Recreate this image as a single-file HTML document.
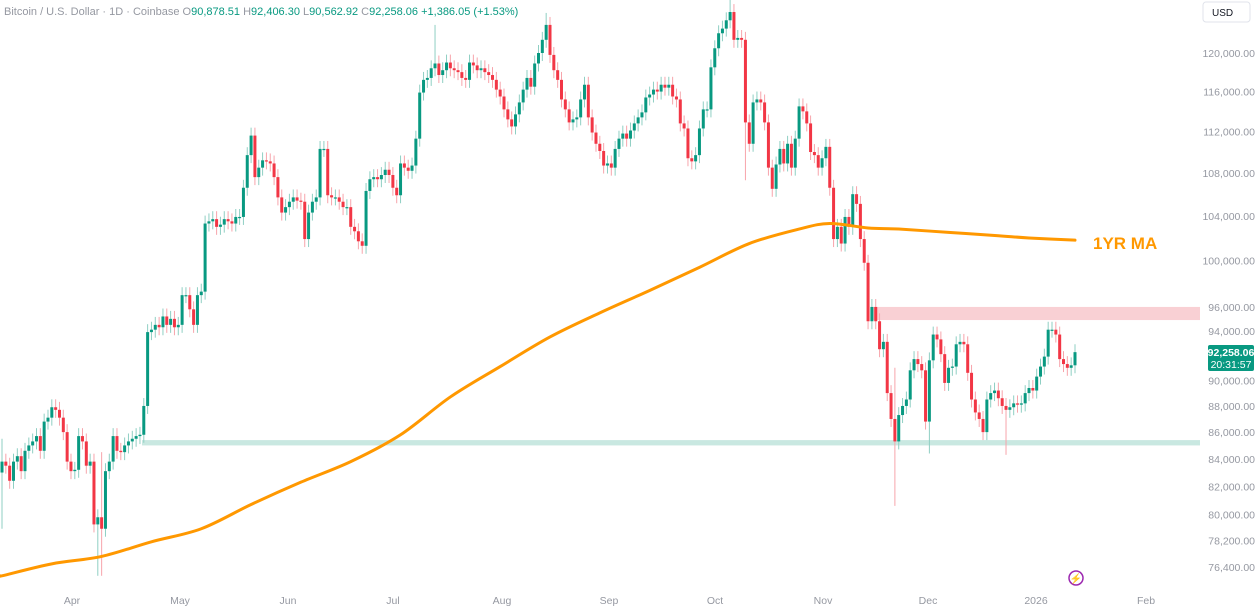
<!DOCTYPE html>
<html><head><meta charset="utf-8"><style>
body{margin:0;background:#fff;font-family:"Liberation Sans",sans-serif;}
svg{display:block}
text{font-family:"Liberation Sans",sans-serif}
</style></head><body>
<svg id="c" width="1259" height="609">
<text x="4" y="15" font-size="11" fill="#9598a1">Bitcoin / U.S. Dollar · 1D · Coinbase  <tspan fill="#9598a1">O</tspan><tspan fill="#089981">90,878.51</tspan>  <tspan>H</tspan><tspan fill="#089981">92,406.30</tspan>  <tspan>L</tspan><tspan fill="#089981">90,562.92</tspan>  <tspan>C</tspan><tspan fill="#089981">92,258.06 +1,386.05 (+1.53%)</tspan></text>
<rect x="1203" y="2" width="47" height="20" rx="3" fill="#fff" stroke="#e0e3eb"/>
<text x="1212" y="16" font-size="10" fill="#131722">USD</text>
<g id="zones"></g><g id="candles"></g><g id="ma"></g><g id="yaxis"></g><g id="xaxis"></g>
<text x="1093" y="249" font-size="17" font-weight="bold" fill="#ff9800">1YR MA</text>
<rect x="1208" y="345" width="46" height="26" rx="2" fill="#089981"/>
<text x="1231" y="356" font-size="10.5" font-weight="bold" fill="#fff" text-anchor="middle">92,258.06</text>
<text x="1231" y="368" font-size="10.5" fill="#fff" text-anchor="middle">20:31:57</text>
<g><circle cx="1076" cy="578" r="7" fill="none" stroke="#9c27b0" stroke-width="1.5"/><text x="1076" y="582" font-size="10" fill="#9c27b0" text-anchor="middle">⚡</text></g>
</svg>
<script>
const NS="http://www.w3.org/2000/svg";
const closes=[83.8,83.5,82.4,83.8,84.2,83.1,84.6,85.0,
85.3,85.7,84.6,86.8,87.1,87.9,87.7,87.1,
86.0,83.8,83.1,83.2,85.7,85.3,83.5,83.8,
79.3,79.8,79.0,83.1,
83.8,85.7,84.6,84.5,85.0,85.3,85.5,85.7,85.8,
88.0,93.9,
94.1,94.5,94.3,95.2,94.5,95.0,94.3,94.5,
97.0,97.0,95.8,94.5,97.0,97.3,
103.3,103.5,103.7,103.0,103.2,103.7,103.5,103.3,103.9,103.9,
106.6,109.7,111.6,107.6,108.5,
109.2,109.1,108.9,107.6,105.7,104.3,104.8,105.3,105.7,105.4,105.3,
101.9,104.3,105.3,105.7,110.3,110.3,105.9,105.7,
105.7,105.3,104.8,104.8,103.0,102.6,101.7,101.3,
106.3,107.4,107.6,107.4,107.8,108.3,107.8,106.6,105.9,
108.9,108.5,108.2,108.7,111.3,115.9,117.2,
117.4,118.4,118.9,117.7,118.2,119.0,118.4,118.2,118.0,117.4,117.2,119.0,118.7,118.2,
118.4,118.0,117.7,117.2,116.2,115.5,114.2,113.2,112.5,
113.7,114.9,116.2,117.4,116.5,118.9,120.0,121.4,123.0,
119.8,118.2,117.2,115.2,114.2,112.9,113.2,113.4,
115.2,116.7,113.4,111.9,110.8,110.1,
108.7,108.9,108.5,110.3,111.3,111.8,111.3,112.1,112.8,113.4,113.9,
115.4,115.7,116.2,116.0,116.7,116.4,116.7,
115.5,115.2,112.8,112.3,109.4,109.1,109.7,112.3,114.2,114.2,
118.5,120.5,122.1,122.6,123.5,124.4,121.4,
121.6,121.4,112.9,
110.8,114.9,115.2,114.9,112.9,108.5,106.5,
108.8,110.3,108.9,110.8,108.5,111.3,114.5,
114.0,112.8,110.0,109.7,108.5,109.4,110.5,
106.6,101.9,103.0,101.5,103.9,103.0,
106.0,105.1,101.9,99.8,94.8,
96.0,94.8,92.5,93.1,89.0,87.0,85.3,87.3,
88.0,88.5,90.8,91.7,91.3,90.8,86.8,
91.6,93.7,93.3,92.1,89.8,91.0,
91.1,92.9,93.1,92.9,90.6,88.5,87.5,
87.0,86.0,88.5,89.0,89.2,88.6,88.0,
87.7,87.9,88.2,88.1,88.2,89.0,89.4,89.2,90.3,
91.1,91.9,94.1,94.1,93.7,91.7,91.3,91.0,91.2,92.26];
const wickHighIdx=[26,113,142,190,194,233,242,0];
const wickHighVal=[84.5,123.0,124.3,126.0,121.0,91.0,91.0,85.5];
const wickLowIdx=[0,25,26,194,233,242,262];
const wickLowVal=[79.0,75.8,75.8,107.3,80.6,84.4,84.3];
const maIdx=[0,13,26,39,52,65,78,91,104,117,130,143,156,169,182,195,208,216,226,234,247,260,268,280];
const maVals=[75.8,76.6,77.1,78.1,79.0,80.7,82.3,83.8,85.8,88.7,91.1,93.5,95.5,97.4,99.4,101.5,102.8,103.3,102.9,102.8,102.5,102.2,102.0,101.8];
const zoneRes=[94.9,96.0], zoneSup=[85.0,85.4];
const yTicks=[120000,116000,112000,108000,104000,100000,96000,94000,90000,88000,86000,84000,82000,80000,78200,76400];
const xLabels=["Apr","May","Jun","Jul","Aug","Sep","Oct","Nov","Dec","2026","Feb"];
const xLabelPos=[72,180,288,393,502,609,715,823,928,1036,1146];

const y=p=>53+1138*Math.log(120000/(p*1000));
const step=(1075-2)/(closes.length-1);
const x=i=>2+step*i;
function el(t,a,p){const e=document.createElementNS(NS,t);for(const k in a)e.setAttribute(k,a[k]);p.appendChild(e);return e;}
const zg=document.getElementById('zones');
let z1=el('rect',{x:873,y:y(zoneRes[1]),width:327,height:y(zoneRes[0])-y(zoneRes[1]),fill:'#f9d0d4'},zg);


let z2=el('rect',{x:142,y:y(zoneSup[1]),width:1058,height:y(zoneSup[0])-y(zoneSup[1]),fill:'#c9e8e1'},zg);


const cg=document.getElementById('candles');
for(let i=0;i<closes.length;i++){
  const c=closes[i],o=i?closes[i-1]:83.0;
  let hi=Math.max(o,c)*1.007, lo=Math.min(o,c)*0.993;
  const hk=wickHighIdx.indexOf(i); if(hk>=0)hi=Math.max(hi,wickHighVal[hk]);
  const lk=wickLowIdx.indexOf(i); if(lk>=0)lo=Math.min(lo,wickLowVal[lk]);
  const up=c>=o, col=up?'#089981':'#f23645', wc=up?'#8fcfc3':'#f7a4ab';
  const g=el('g',{},cg);
  
  
  el('line',{x1:x(i),x2:x(i),y1:y(hi),y2:y(lo),stroke:wc,'stroke-width':1},g);
  const t=y(Math.max(o,c)),b=y(Math.min(o,c));
  el('rect',{x:x(i)-1.5,y:t,width:3,height:Math.max(1.2,b-t),fill:col},g);
}
const mg=document.getElementById('ma');
const pts=[[0,y(maVals[0])]].concat(maIdx.map((ix,k)=>[x(ix),y(maVals[k])]));
let d='M'+pts[0][0]+','+pts[0][1];
for(let k=0;k<pts.length-1;k++){
  const p0=pts[Math.max(0,k-1)],p1=pts[k],p2=pts[k+1],p3=pts[Math.min(pts.length-1,k+2)];
  const c1=[p1[0]+(p2[0]-p0[0])/6,p1[1]+(p2[1]-p0[1])/6];
  const c2=[p2[0]-(p3[0]-p1[0])/6,p2[1]-(p3[1]-p1[1])/6];
  d+=' C'+c1[0]+','+c1[1]+' '+c2[0]+','+c2[1]+' '+p2[0]+','+p2[1];
}
const mp=el('path',{d:d,fill:'none',stroke:'#ff9800','stroke-width':3,'stroke-linejoin':'round','stroke-linecap':'round'},mg);


const ya=document.getElementById('yaxis');
yTicks.forEach(v=>{const t=el('text',{x:1255,y:y(v/1000)+4,'font-size':10.5,fill:'#9598a1','text-anchor':'end'},ya);


t.textContent=v.toLocaleString('en-US',{minimumFractionDigits:2});});
const xa=document.getElementById('xaxis');
xLabels.forEach((l,k)=>{const t=el('text',{x:xLabelPos[k],y:604,'font-size':10.5,fill:'#9598a1','text-anchor':'middle'},xa);


t.textContent=l;});
</script>
</body></html>
